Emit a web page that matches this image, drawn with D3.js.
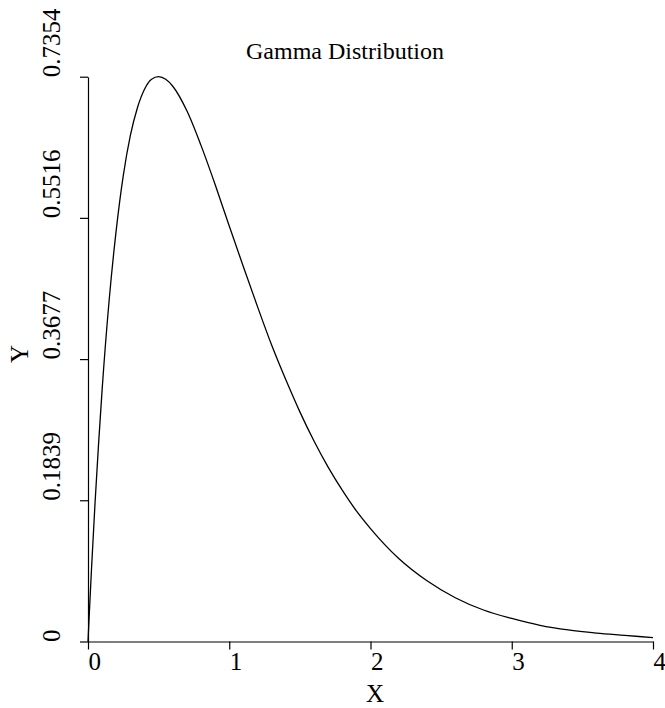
<!DOCTYPE html>
<html><head><meta charset="utf-8">
<script src="https://cdn.jsdelivr.net/npm/d3@7"></script>
<style>body{margin:0;background:#fff}svg{display:block}text{font-family:"Liberation Serif","Times New Roman",serif;fill:#000}</style>
</head><body>
<svg id="c" width="665" height="708"></svg>
<script>
const xValues = [0,0.01,0.025,0.05,0.075,0.1,0.15,0.2,0.25,0.3,0.35,0.4,0.45,0.5,0.55,0.6,0.7,0.8,0.9,1.0,1.1,1.2,1.3,1.4,1.5,1.6,1.7,1.8,1.9,2.0,2.2,2.4,2.6,2.8,3.0,3.2,3.4,3.6,3.8,4.0];
const yValues = [0,0.039,0.095,0.181,0.258,0.328,0.445,0.536,0.607,0.659,0.695,0.719,0.732,0.7354,0.732,0.723,0.691,0.646,0.595,0.541,0.488,0.436,0.386,0.341,0.299,0.261,0.227,0.197,0.170,0.147,0.108,0.079,0.057,0.041,0.030,0.021,0.015,0.011,0.008,0.005];
const xTicks = [0,1,2,3,4];
const yTicks = [0,0.1839,0.3677,0.5516,0.7354];
const title = "Gamma Distribution", xTitle = "X", yTitle = "Y";

const svg = d3.select("#c");
const x = d3.scaleLinear().domain([0,4]).range([88,653]);
const y = d3.scaleLinear().domain([0,0.7354]).range([641.5,76.7]);

const xAxis = svg.append("g").attr("transform","translate(0,641.5)")
  .call(d3.axisBottom(x).tickValues(xTicks).tickFormat(d=>d).tickSizeOuter(0).tickSizeInner(8));
xAxis.select(".domain").attr("stroke","#000").attr("stroke-width",1.2);
xAxis.selectAll(".tick line").attr("stroke-width",1.2);
xAxis.selectAll(".tick text").attr("y",28.5).attr("dy",null).attr("text-anchor","start")
  .attr("font-size",25).attr("font-family","Liberation Serif");

const yAxis = svg.append("g").attr("transform","translate(88,0)")
  .call(d3.axisLeft(y).tickValues(yTicks).tickFormat(d=>d===0?"0":d3.format(".4f")(d)).tickSizeOuter(0).tickSizeInner(8));
yAxis.select(".domain").attr("stroke","#000").attr("stroke-width",1.2);
yAxis.selectAll(".tick line").attr("stroke-width",1.2);
yAxis.selectAll(".tick text").attr("x",null).attr("dy",null)
  .attr("transform","translate(-28,0) rotate(-90)")
  .attr("text-anchor","start").attr("font-size",25).attr("font-family","Liberation Serif");

const line = d3.line().x((d,i)=>x(xValues[i])).y(d=>y(d)).curve(d3.curveMonotoneX);
svg.append("path").datum(yValues).attr("d",line).attr("fill","none").attr("stroke","#000").attr("stroke-width",1.3);

svg.append("text").attr("x",345).attr("y",59).attr("text-anchor","middle").attr("font-size",24).text(title);
svg.append("text").attr("x",375).attr("y",701.5).attr("text-anchor","middle").attr("font-size",25).text(xTitle);
svg.append("text").attr("transform","translate(28,354) rotate(-90)").attr("text-anchor","middle").attr("font-size",25).text(yTitle);
</script>
</body></html>
